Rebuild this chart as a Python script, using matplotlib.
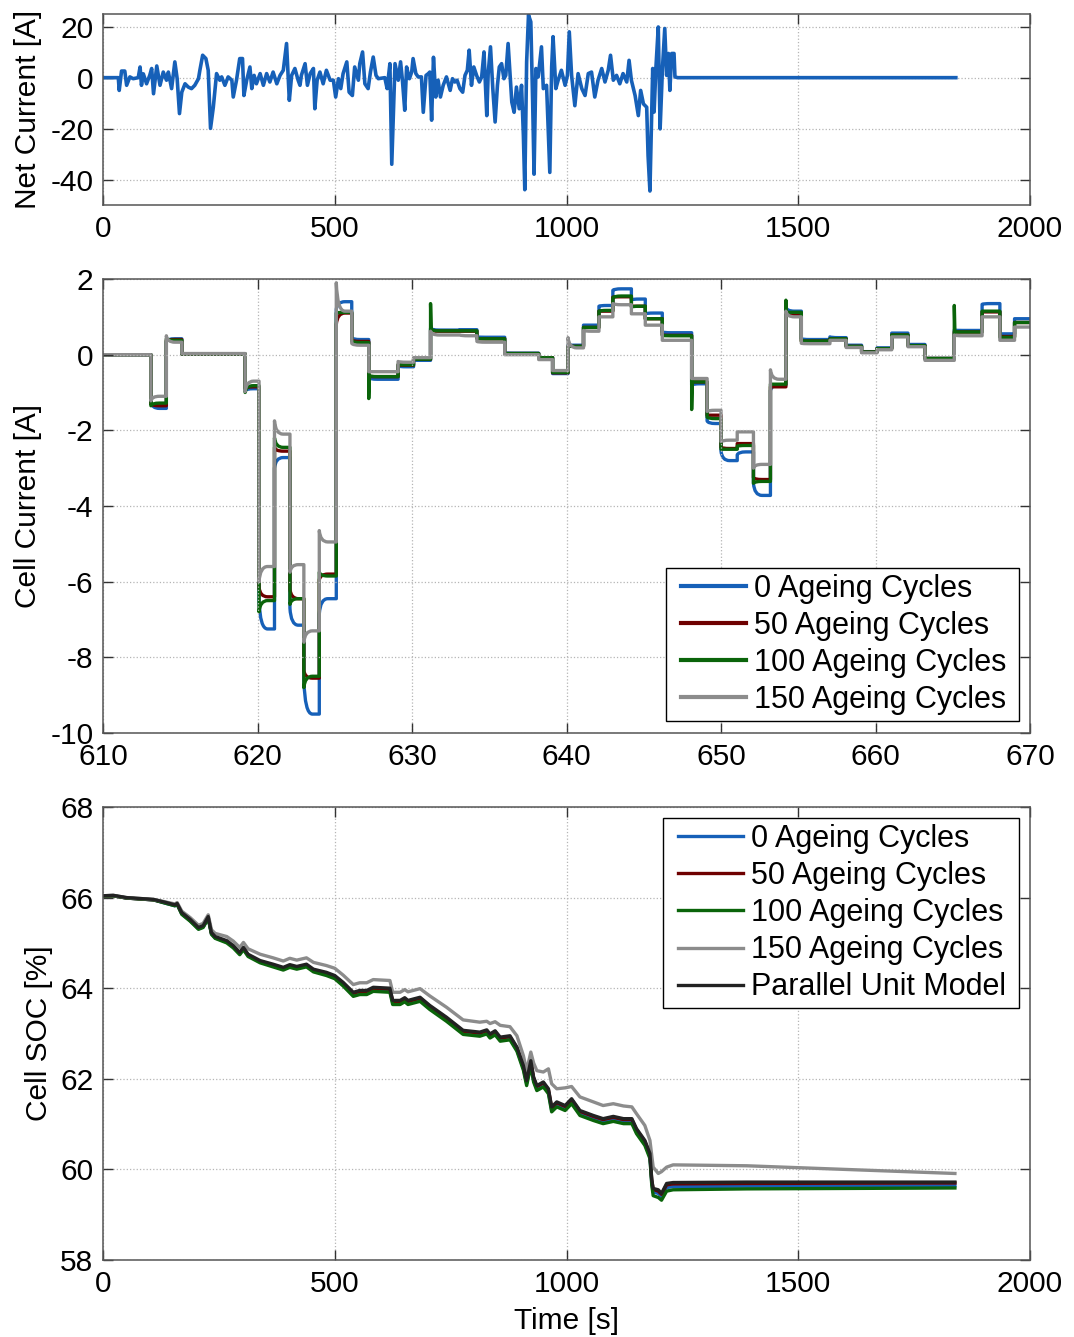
import matplotlib
matplotlib.use("Agg")
import matplotlib.pyplot as plt
from matplotlib.path import Path
from matplotlib.patches import PathPatch
from matplotlib.lines import Line2D
from matplotlib.legend_handler import HandlerLine2D

plt.rcParams['font.family'] = ['Liberation Sans', 'DejaVu Sans']
plt.rcParams['axes.unicode_minus'] = False

# ---------------- data: net current (top) ----------------
net_t = [0, 33, 35, 40, 47, 51, 58, 65, 76, 80, 83, 87, 94, 101, 105, 109, 116, 123, 130, 137,
         141, 148, 155, 160, 165, 170, 177, 184, 191, 198, 206, 209, 215, 222, 227, 232, 238, 245,
         252, 256, 263, 270, 278, 281, 288, 295, 301, 304, 310, 317, 321, 326, 331, 339, 346, 353,
         360, 367, 375, 382, 389, 396, 402, 407, 414, 421, 425, 428, 436, 441, 447, 454, 457, 462,
         468, 475, 482, 490, 497, 502, 508, 513, 518, 526, 531, 538, 543, 551, 554, 560, 565, 572,
         577, 583, 589, 594, 608, 613, 619, 623, 630, 637, 642, 646, 651, 655, 661, 666, 669, 675,
         680, 687, 691, 697, 702, 705, 709, 713, 718, 723, 728, 734, 741, 749, 754, 759, 764, 770,
         776, 781, 786, 790, 795, 800, 806, 812, 817, 822, 828, 831, 836, 841, 846, 851, 855, 860,
         865, 869, 874, 878, 882, 887, 892, 898, 903, 907, 910, 914, 918, 923, 927, 930, 934, 939,
         946, 950, 957, 964, 968, 971, 977, 982, 989, 997, 1002, 1006, 1011, 1018, 1025, 1033,
         1040, 1047, 1054, 1061, 1068, 1076, 1083, 1090, 1095, 1101, 1108, 1115, 1122, 1130, 1135,
         1140, 1148, 1155, 1160, 1166, 1173, 1176, 1180, 1186, 1189, 1193, 1198, 1202, 1207, 1212,
         1216, 1220, 1223, 1227, 1232, 1234, 1240, 1840]
net_i = [0, 0, -5.0, 2.6, 2.6, -3.0, 0.3, -0.4, 0, 4.2, -3.0, 1.5, -2.4, 1.0, 3.6, -6.3, 4.6, -3.0, 2.2, -1.0,
         2.2, -4.3, 6.2, -0.4, -14.1, -5.7, -2.4, -3.7, -4.3, -3.0, -0.4, 2.9, 8.8, 7.5, 2.9, -19.9, -11.6, 1.6,
         -1.0, 0.3, -3.0, 0.3, -1.0, -7.6, -1.0, 7.5, 7.5, -7.0, -1.0, 4.2, -4.3, 0.9, -2.4, 1.6, -3.0, 1.6,
         -1.7, 2.2, -2.4, 0.9, 2.9, 13.4, -8.9, 0.9, 3.6, -1.0, -3.0, 0.9, 5.5, -3.0, 1.6, 3.6, -12.2, -1.0,
         2.2, -2.4, 2.9, -1.0, -1.0, -7.6, -0.4, -4.3, 1.6, 6.2, -5.7, -7.0, 4.2, -1.0, 5.5, 10.1, -2.4, -4.3,
         2.2, 8.1, 0.9, -0.4, 0, -4.3, 5.5, -34.0, 5.5, -1.0, 6.2, -1.0, -12.8, 4.2, -0.4, 2.2, 7.5, 1.6,
         0.3, 0.3, -13.6, 0.9, 1.6, 2.2, -16.7, 8.0, -7.6, -1.0, -7.6, -3.0, 0.3, -5.0, -0.4, -1.7, -1.0, -4.3,
         -5.7, 0.9, 2.9, 10.8, -3.0, 4.2, 0.9, -1.7, 0.3, 10.1, -14.9, 1.6, 12.1, -4.3, -17.4, -3.0, 4.2, 5.5,
         -0.4, 0.9, 13.4, 2.2, -9.6, -13.6, -3.7, -12.2, -3.0, -22.8, -44.0, 6.2, 24.6, 21.9, -9.6, -37.9, 3.6, 0.3,
         12.1, -4.3, -3.0, -37.2, 4.2, 16.1, -4.3, -1.0, 2.9, -3.0, 0.9, 18.0, 0.9, -11.0, 1.6, -4.3,
         -7.0, 1.6, 2.2, -7.6, -1.0, 3.6, -1.7, 2.9, 8.8, -1.0, 0.9, -2.4, 1.6, -1.7, 6.8,
         -1.0, -7.0, -14.9, -5.0, -10.3, -11.6, -30.7, -44.5, 3.6, -13.5, 4.2, 19.9, -20.1, 3.6, 19.3,
         0.9, 9.5, -5.0, 9.5, 9.5, 0.3, 0, 0]

# ---------------- data: cell current (middle) ----------------
seg_t = [610.0, 613.1, 614.1, 615.1, 619.2, 620.1, 621.1, 622.1, 623.0, 624.0, 625.1, 626.1, 627.2,
         629.1, 630.1, 631.2, 633.1, 634.2, 636.0, 638.2, 639.1, 640.1, 641.1, 642.1, 643.0, 644.2,
         645.1, 646.2, 648.1, 649.1, 650.0, 651.05, 652.1, 653.2, 654.2, 655.2, 657.05, 658.1, 659.1,
         660.1, 661.05, 662.1, 663.2, 665.1, 666.9, 668.05, 669.0, 670.0]

c0_start = [0, -1.25, 0.35, 0.02, -0.95, -6.5, -3.0, -6.7, -8.6, -6.85, 1.2, 0.45, -0.6, -0.3, -0.15, 0.7,
            0.66, 0.47, 0.05, -0.07, -0.5, 0.25, 0.78, 1.28, 1.7, 1.45, 1.08, 0.6, -0.8, -1.75, -2.55,
            -2.65, -3.4, -0.95, 1.25, 0.42, 0.47, 0.25, 0.08, 0.18, 0.57, 0.27, -0.1, 0.65, 1.33, 0.55, 0.95]
c0_end = [0, -1.42, 0.42, 0.02, -0.9, -7.25, -2.72, -7.15, -9.5, -6.45, 1.4, 0.4, -0.65, -0.32, -0.15, 0.65,
          0.66, 0.46, 0.04, -0.08, -0.5, 0.25, 0.78, 1.3, 1.74, 1.47, 1.1, 0.58, -0.77, -1.82, -2.8,
          -2.57, -3.72, -0.8, 1.15, 0.4, 0.45, 0.25, 0.08, 0.18, 0.57, 0.27, -0.1, 0.64, 1.35, 0.55, 0.95]

c50_start = [0, -1.3, 0.38, 0.02, -0.9, -6.15, -2.45, -6.2, -8.35, -5.95, 0.8, 0.38, -0.58, -0.27, -0.12, 0.66,
             0.62, 0.43, 0.03, -0.08, -0.48, 0.22, 0.72, 1.15, 1.52, 1.28, 0.95, 0.52, -0.72, -1.6, -2.45,
             -2.35, -3.25, -0.85, 1.05, 0.36, 0.42, 0.22, 0.07, 0.16, 0.52, 0.24, -0.1, 0.6, 1.13, 0.48, 0.85]
c50_end = [0, -1.35, 0.4, 0.02, -0.85, -6.4, -2.55, -6.45, -8.55, -5.8, 1.1, 0.35, -0.58, -0.28, -0.12, 0.62,
           0.62, 0.42, 0.03, -0.08, -0.48, 0.22, 0.72, 1.15, 1.53, 1.28, 0.95, 0.51, -0.72, -1.6, -2.48,
           -2.35, -3.3, -0.85, 1.05, 0.36, 0.42, 0.22, 0.07, 0.16, 0.52, 0.24, -0.1, 0.6, 1.13, 0.48, 0.85]

c100_start = [0, -1.35, 0.42, 0.02, -0.95, -6.8, -2.2, -6.6, -8.8, -5.75, 1.1, 0.36, -0.55, -0.26, -0.12, 0.68,
              0.63, 0.43, 0.03, -0.08, -0.47, 0.22, 0.72, 1.15, 1.5, 1.26, 0.95, 0.51, -0.72, -1.65, -2.5,
              -2.42, -3.4, -0.78, 1.12, 0.36, 0.42, 0.22, 0.07, 0.16, 0.52, 0.24, -0.1, 0.6, 1.15, 0.46, 0.85]
c100_end = [0, -1.28, 0.38, 0.02, -0.82, -6.5, -2.45, -6.45, -8.5, -5.85, 1.12, 0.32, -0.58, -0.27, -0.12, 0.63,
            0.63, 0.42, 0.03, -0.08, -0.47, 0.22, 0.72, 1.17, 1.55, 1.28, 0.95, 0.5, -0.72, -1.69, -2.5,
            -2.4, -3.35, -0.78, 1.12, 0.36, 0.42, 0.22, 0.07, 0.16, 0.52, 0.24, -0.1, 0.6, 1.15, 0.46, 0.85]
c100_spikes = {4: -1.0, 12: -1.16, 15: 1.35, 28: -1.45, 34: 1.44, 43: 1.3}

c150_start = [0, -1.22, 0.5, 0.03, -0.98, -6.0, -1.75, -5.75, -7.6, -4.65, 1.9, 0.3, -0.45, -0.18, -0.08, 0.62,
              0.52, 0.35, 0.0, -0.13, -0.42, 0.45, 0.64, 1.0, 1.35, 1.08, 0.78, 0.38, -0.63, -1.5, -2.3,
              -2.04, -3.0, -0.4, 1.15, 0.3, 0.38, 0.19, 0.05, 0.13, 0.47, 0.21, -0.15, 0.52, 1.0, 0.38, 0.73]
c150_end = [0, -1.1, 0.33, 0.03, -0.7, -5.6, -2.1, -5.55, -7.3, -4.95, 1.15, 0.25, -0.45, -0.2, -0.08, 0.52,
            0.5, 0.33, 0.0, -0.13, -0.42, 0.18, 0.62, 1.0, 1.32, 1.08, 0.78, 0.38, -0.63, -1.47, -2.26,
            -2.04, -2.9, -0.65, 1.0, 0.29, 0.38, 0.19, 0.05, 0.13, 0.47, 0.21, -0.15, 0.5, 1.0, 0.38, 0.73]

# ---------------- data: SOC (bottom) ----------------
soc_t = [0, 22, 51, 80, 109, 137, 155, 160, 170, 188, 206, 216, 227, 234, 242, 267, 281, 295, 303, 313,
         339, 367, 389, 403, 418, 439, 454, 482, 500, 518, 540, 554, 569, 583, 619, 625, 641, 651, 658,
         684, 705, 741, 777, 813, 828, 835, 846, 857, 878, 893, 907, 914, 923, 929, 936, 950, 961, 968,
         979, 997, 1011, 1029, 1058, 1079, 1101, 1123, 1141, 1151, 1169, 1180, 1184, 1187, 1198, 1205,
         1216, 1230, 1389, 1838]
soc_unit = [66.04, 66.05, 66.0, 65.98, 65.96, 65.89, 65.84, 65.87, 65.67, 65.52, 65.34, 65.38, 65.58, 65.23,
            65.14, 65.05, 64.94, 64.79, 64.9, 64.75, 64.61, 64.53, 64.46, 64.52, 64.48, 64.53, 64.42, 64.35,
            64.28, 64.13, 63.91, 63.95, 63.95, 64.02, 64.0, 63.73, 63.73, 63.79, 63.73, 63.8, 63.62, 63.36,
            63.07, 63.03, 63.08, 62.99, 63.06, 62.92, 62.95, 62.7, 62.29, 61.96, 62.4, 62.04, 61.85, 61.93,
            61.78, 61.38, 61.49, 61.41, 61.56, 61.3, 61.19, 61.12, 61.17, 61.12, 61.12, 60.9, 60.64, 60.35,
            59.77, 59.58, 59.55, 59.47, 59.69, 59.71, 59.72, 59.72]
soc_0 = [66.03, 66.04, 65.99, 65.97, 65.95, 65.87, 65.82, 65.85, 65.64, 65.49, 65.31, 65.35, 65.55, 65.2,
         65.11, 65.02, 64.91, 64.76, 64.87, 64.72, 64.58, 64.5, 64.43, 64.49, 64.45, 64.5, 64.39, 64.31,
         64.24, 64.09, 63.86, 63.9, 63.9, 63.97, 63.95, 63.68, 63.68, 63.74, 63.68, 63.75, 63.57, 63.31,
         63.02, 62.98, 63.03, 62.94, 63.01, 62.87, 62.9, 62.64, 62.23, 61.9, 62.33, 61.97, 61.78, 61.86,
         61.71, 61.31, 61.42, 61.34, 61.49, 61.23, 61.12, 61.05, 61.1, 61.05, 61.05, 60.83, 60.57, 60.28,
         59.7, 59.5, 59.47, 59.4, 59.6, 59.62, 59.63, 59.64]
soc_50 = [66.03, 66.04, 65.99, 65.97, 65.95, 65.88, 65.83, 65.86, 65.65, 65.5, 65.32, 65.36, 65.56, 65.21,
          65.12, 65.03, 64.92, 64.77, 64.88, 64.73, 64.59, 64.51, 64.44, 64.5, 64.46, 64.51, 64.4, 64.33,
          64.26, 64.11, 63.89, 63.93, 63.93, 64.0, 63.98, 63.71, 63.71, 63.77, 63.71, 63.78, 63.6, 63.34,
          63.05, 63.01, 63.06, 62.97, 63.04, 62.9, 62.93, 62.68, 62.27, 61.94, 62.38, 62.02, 61.83, 61.91,
          61.76, 61.36, 61.47, 61.39, 61.54, 61.28, 61.17, 61.1, 61.15, 61.1, 61.1, 60.88, 60.62, 60.33,
          59.75, 59.56, 59.52, 59.45, 59.66, 59.68, 59.69, 59.7]
soc_100 = [66.03, 66.04, 65.99, 65.97, 65.95, 65.87, 65.82, 65.85, 65.63, 65.48, 65.3, 65.34, 65.54, 65.19,
           65.1, 65.0, 64.89, 64.74, 64.85, 64.7, 64.56, 64.47, 64.4, 64.46, 64.42, 64.47, 64.36, 64.28,
           64.21, 64.05, 63.82, 63.86, 63.86, 63.93, 63.91, 63.64, 63.64, 63.7, 63.64, 63.71, 63.53, 63.27,
           62.98, 62.94, 62.99, 62.9, 62.97, 62.83, 62.86, 62.61, 62.19, 61.85, 62.29, 61.93, 61.74, 61.82,
           61.67, 61.27, 61.38, 61.3, 61.45, 61.19, 61.08, 61.01, 61.06, 61.01, 61.01, 60.79, 60.53, 60.24,
           59.65, 59.42, 59.38, 59.32, 59.52, 59.55, 59.57, 59.59]
soc_150 = [66.04, 66.05, 66.0, 65.98, 65.96, 65.9, 65.86, 65.89, 65.7, 65.56, 65.39, 65.43, 65.62, 65.29,
           65.21, 65.14, 65.04, 64.9, 65.01, 64.87, 64.75, 64.67, 64.6, 64.66, 64.62, 64.67, 64.57, 64.5,
           64.44, 64.29, 64.08, 64.12, 64.12, 64.19, 64.17, 63.91, 63.91, 63.97, 63.92, 63.99, 63.83, 63.58,
           63.3, 63.25, 63.27, 63.22, 63.26, 63.18, 63.15, 62.95, 62.51, 62.18, 62.59, 62.35, 62.18, 62.15,
           62.22, 61.89, 61.78, 61.8, 61.83, 61.6, 61.49, 61.41, 61.45, 61.4, 61.38, 61.23, 60.97, 60.64,
           60.3, 60.05, 59.91, 59.95, 60.05, 60.1, 60.08, 59.91]

labels4 = ['0 Ageing Cycles', '50 Ageing Cycles', '100 Ageing Cycles', '150 Ageing Cycles']
label_unit = 'Parallel Unit Model'

# ---------------- style ----------------
C_BLUE = '#1660B8'
C_RED = '#6E0000'
C_GREEN = '#0A640A'
C_GRAY = '#8C8C8C'
C_BLACK = '#222222'
FS = 21.5
LW = 2.4


def style_axes(ax):
    ax.tick_params(direction='in', top=True, right=True, length=7, width=1.0,
                   labelsize=FS, pad=7, colors='#333333', labelcolor='black')
    for s in ax.spines.values():
        s.set_color('#555555')
        s.set_linewidth(1.1)
    ax.grid(True, linestyle=':', color='#b5b5b5', linewidth=0.9)


def step_path(bounds, starts, ends, spikes=None, knee=0.55):
    verts, codes = [], []
    for i in range(len(starts)):
        t0, t1 = bounds[i], bounds[i + 1]
        v0, v1 = starts[i], ends[i]
        k = min(knee, 0.6 * (t1 - t0))
        verts.append((t0, v0))
        codes.append(Path.MOVETO if i == 0 else Path.LINETO)
        if spikes and i in spikes:
            verts += [(t0, spikes[i]), (t0 + 0.04, v0)]
            codes += [Path.LINETO, Path.LINETO]
        verts += [(t0 + 0.12 * k, v1), (t0 + k, v1), (t1, v1)]
        codes += [Path.CURVE3, Path.CURVE3, Path.LINETO]
    return Path(verts, codes)


def make_legend(ax, loc, bbox):
    leg = ax.legend(loc=loc, bbox_to_anchor=bbox, mode='expand', fontsize=22, frameon=True,
                    fancybox=False, edgecolor='black', framealpha=1, borderaxespad=0.0,
                    handlelength=2.42, handletextpad=0.25, labelspacing=0.23, borderpad=0.2,
                    handler_map={Line2D: HandlerLine2D(xpad=0.28)})
    leg.get_frame().set_linewidth(1.0)
    return leg


fig = plt.figure(figsize=(10.74, 13.37), dpi=100)
L, W = 103 / 1074, 927 / 1074
ax1 = fig.add_axes([L, 1 - 205 / 1337, W, 191 / 1337])
ax2 = fig.add_axes([L, 1 - 733 / 1337, W, 454 / 1337])
ax3 = fig.add_axes([L, 1 - 1260 / 1337, W, 453 / 1337])

# top
ax1.plot(net_t, net_i, color=C_BLUE, lw=2.6)
ax1.set_xlim(0, 2000)
ax1.set_ylim(-50, 25)
ax1.set_xticks([0, 500, 1000, 1500, 2000])
ax1.set_yticks([-40, -20, 0, 20])
ax1.set_ylabel('Net Current [A]', fontsize=FS, labelpad=6)
style_axes(ax1)

# middle
series = [(c0_start, c0_end, None, C_BLUE), (c50_start, c50_end, None, C_RED),
          (c100_start, c100_end, c100_spikes, C_GREEN), (c150_start, c150_end, None, C_GRAY)]
for (st, en, sp, col), lab in zip(series, labels4):
    p = PathPatch(step_path(seg_t, st, en, sp), facecolor='none', edgecolor=col, lw=LW,
                  joinstyle='round', capstyle='round')
    ax2.add_patch(p)
    ax2.plot([], [], color=col, lw=3, label=lab)
ax2.set_xlim(610, 670)
ax2.set_ylim(-10, 2)
ax2.set_xticks(range(610, 671, 10))
ax2.set_yticks(range(-10, 3, 2))
ax2.set_ylabel('Cell Current [A]', fontsize=FS, labelpad=6)
style_axes(ax2)
make_legend(ax2, 'lower left', (0.6073, 0.0264, 0.3808, 0.34))

# bottom
for vals, col, lab in [(soc_0, C_BLUE, labels4[0]), (soc_50, C_RED, labels4[1]),
                       (soc_100, C_GREEN, labels4[2]), (soc_150, C_GRAY, labels4[3]),
                       (soc_unit, C_BLACK, label_unit)]:
    ax3.plot(soc_t, vals, color=col, lw=LW, label=lab)
ax3.set_xlim(0, 2000)
ax3.set_ylim(58, 68)
ax3.set_xticks([0, 500, 1000, 1500, 2000])
ax3.set_yticks(range(58, 69, 2))
ax3.set_ylabel('Cell SOC [%]', fontsize=FS, labelpad=5)
ax3.set_xlabel('Time [s]', fontsize=FS, labelpad=7)
style_axes(ax3)
make_legend(ax3, 'upper left', (0.6041, 0.5563, 0.3840, 0.4194))

fig.savefig('out.png', dpi=100)
